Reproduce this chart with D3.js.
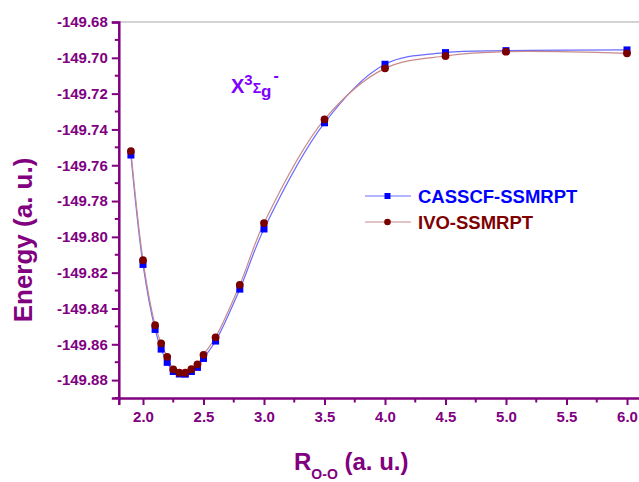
<!DOCTYPE html>
<html>
<head>
<meta charset="utf-8">
<script src="https://cdn.jsdelivr.net/npm/d3@7"></script>
<style>
  body { margin: 0; background: #fff; }
  svg { display: block; font-family: "Liberation Sans", Arial, sans-serif; }
</style>
</head>
<body>
<svg id="chart" width="639" height="482"></svg>
<script>
/* data */
const rValues = [1.9, 2.0, 2.1, 2.15, 2.2, 2.25, 2.3, 2.35, 2.4, 2.45, 2.5, 2.6, 2.8, 3.0, 3.5, 4.0, 4.5, 5.0, 6.0];
const casscf = [-149.7543, -149.8154, -149.8517, -149.8627, -149.8701, -149.8752, -149.8766, -149.8767, -149.8752, -149.8729, -149.8679, -149.8582, -149.8292, -149.7956, -149.7363, -149.7036, -149.6971, -149.6960, -149.6956];
const ivo = [-149.7521, -149.8130, -149.8493, -149.8595, -149.8670, -149.8740, -149.8759, -149.8759, -149.8739, -149.8712, -149.8659, -149.8561, -149.8268, -149.7923, -149.7344, -149.7059, -149.6990, -149.6966, -149.6975];

const xTicks = [2.0, 2.5, 3.0, 3.5, 4.0, 4.5, 5.0, 5.5, 6.0];
const xMinor = [2.25, 2.75, 3.25, 3.75, 4.25, 4.75, 5.25, 5.75];
const yTicks = [-149.88, -149.86, -149.84, -149.82, -149.80, -149.78, -149.76, -149.74, -149.72, -149.70, -149.68];
const yMinor = [-149.89, -149.87, -149.85, -149.83, -149.81, -149.79, -149.77, -149.75, -149.73, -149.71, -149.69];

const seriesNames = ["CASSCF-SSMRPT", "IVO-SSMRPT"];

const purple = "#800080";
const svg = d3.select("#chart");

const x = d3.scaleLinear().domain([1.8, 6.2]).range([118.8, 651.2]);
const y = d3.scaleLinear().domain([-149.89, -149.68]).range([398, 22]);

// plain hyphen like the original, not the unicode minus
const fmtY = d => d3.format(".2f")(d).replace("\u2212", "-");

// frame top line
svg.append("line")
  .attr("x1", x(1.8)).attr("x2", 639)
  .attr("y1", y(-149.68)).attr("y2", y(-149.68))
  .attr("stroke", "#c4c4c4").attr("stroke-width", 1.5);

/* ---------- axes ---------- */
const gx = svg.append("g").attr("transform", `translate(0,${y(-149.89)})`);
gx.call(d3.axisBottom(x).tickValues(xTicks).tickFormat(d3.format(".1f")).tickSize(7).tickPadding(6));
gx.selectAll(".minor").data(xMinor).enter().append("line")
  .attr("x1", d => x(d)).attr("x2", d => x(d)).attr("y1", 0).attr("y2", 4.5)
  .attr("stroke", purple).attr("stroke-width", 2);

const gy = svg.append("g").attr("transform", `translate(${x(1.8)},0)`);
gy.call(d3.axisLeft(y).tickValues(yTicks).tickFormat(fmtY).tickSize(7).tickPadding(4));
gy.selectAll(".minor").data(yMinor).enter().append("line")
  .attr("y1", d => y(d)).attr("y2", d => y(d)).attr("x1", 0).attr("x2", -4)
  .attr("stroke", purple).attr("stroke-width", 2);

[gx, gy].forEach(g => {
  g.select(".domain").attr("stroke", purple).attr("stroke-width", 2.5);
  g.selectAll(".tick line").attr("stroke", purple).attr("stroke-width", 2);
  g.selectAll(".tick text")
    .attr("fill", purple).attr("font-size", 15).attr("font-weight", "bold")
    .attr("font-family", "'Liberation Sans', Arial, sans-serif");
});

/* ---------- curves ---------- */
const line = d3.line().x(d => x(d[0])).y(d => y(d[1])).curve(d3.curveCatmullRom.alpha(0.5));

const series = [
  { name: seriesNames[0], values: casscf, line: "#6a6aff", mark: "#0000ff", text: "#0000ff", shape: "square" },
  { name: seriesNames[1], values: ivo, line: "#c88a8a", mark: "#7a0000", text: "#800000", shape: "circle" }
];

series.forEach(s => {
  const pts = rValues.map((r, i) => [r, s.values[i]]);
  svg.append("path").datum(pts)
    .attr("d", line).attr("fill", "none")
    .attr("stroke", s.line).attr("stroke-width", 1.2);
});

series.forEach(s => {
  const pts = rValues.map((r, i) => [r, s.values[i]]);
  if (s.shape === "square") {
    svg.append("g").selectAll("rect").data(pts).enter().append("rect")
      .attr("x", d => x(d[0]) - 3.5).attr("y", d => y(d[1]) - 3.5)
      .attr("width", 7).attr("height", 7).attr("fill", s.mark);
  } else {
    svg.append("g").selectAll("circle").data(pts).enter().append("circle")
      .attr("cx", d => x(d[0])).attr("cy", d => y(d[1]))
      .attr("r", 3.9).attr("fill", s.mark);
  }
});

/* ---------- legend ---------- */
const legend = svg.append("g").attr("transform", "translate(365,196)");
series.forEach((s, i) => {
  const g = legend.append("g").attr("transform", `translate(0,${i * 26})`);
  g.append("line").attr("x1", 0).attr("x2", 46).attr("y1", 0).attr("y2", 0)
    .attr("stroke", s.line).attr("stroke-width", 1.2);
  if (s.shape === "square") {
    g.append("rect").attr("x", 19.5).attr("y", -3).attr("width", 6).attr("height", 6).attr("fill", s.mark);
  } else {
    g.append("circle").attr("cx", 22.5).attr("cy", 0).attr("r", 3.3).attr("fill", s.mark);
  }
  g.append("text").attr("x", 53).attr("y", 6.5)
    .attr("font-size", 18.5).attr("font-weight", "bold").attr("fill", s.text)
    .text(s.name);
});

/* ---------- titles ---------- */
svg.append("text")
  .attr("transform", "translate(32,240) rotate(-90)")
  .attr("text-anchor", "middle")
  .attr("font-size", 26).attr("font-weight", "bold").attr("fill", purple)
  .text("Energy (a. u.)");

const xt = svg.append("text")
  .attr("x", 294).attr("y", 470)
  .attr("font-size", 24).attr("font-weight", "bold").attr("fill", purple);
xt.append("tspan").text("R");
xt.append("tspan").attr("font-size", 14).attr("dy", 9).text("O-O");
xt.append("tspan").attr("dy", -9).text(" (a. u.)");

const st = svg.append("text")
  .attr("x", 231).attr("y", 93)
  .attr("font-weight", "bold").attr("fill", "#7f00ff");
st.append("tspan").attr("font-size", 20).text("X");
st.append("tspan").attr("font-size", 15).attr("dy", -8).text("3");
st.append("tspan").attr("font-size", 14).attr("dy", 8).text("\u03A3");
st.append("tspan").attr("font-size", 17).attr("dy", 4).text("g");
st.append("tspan").attr("font-size", 16).attr("dx", 2).attr("dy", -16).text("-");
</script>
</body>
</html>
